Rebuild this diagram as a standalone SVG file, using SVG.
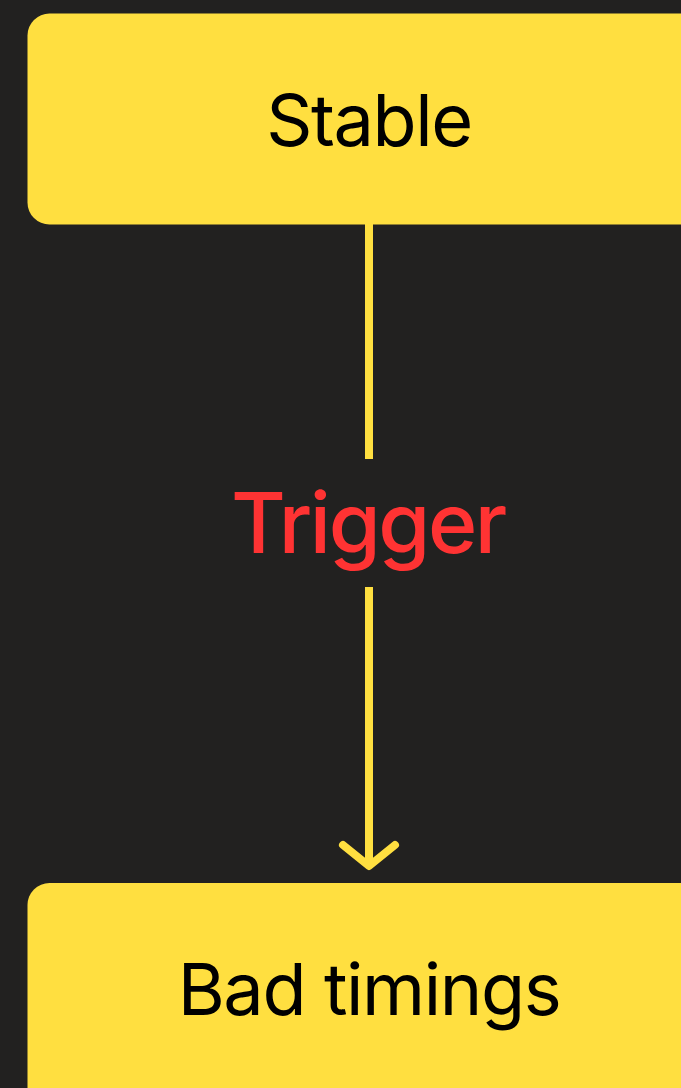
<svg xmlns="http://www.w3.org/2000/svg" width="681" height="1088" viewBox="0 0 681 1088">
  <style>
    .box { fill: #FFDF40; }
    .lbl { font-family: Inter, "Noto Sans", "Liberation Sans", sans-serif; font-size: 72px; letter-spacing: -1.4px; fill: #000000; text-anchor: middle; }
    .edge { stroke: #FFDF40; stroke-width: 8; fill: none; }
    .trig { font-family: Inter, "Noto Sans", "Liberation Sans", sans-serif; font-size: 84px; font-weight: 500; letter-spacing: -2.4px; fill: #FF3333; text-anchor: middle; }
  </style>
  <rect width="681" height="1088" fill="#222120"/>
  <g id="node-stable">
    <rect class="box" x="27.5" y="13.5" width="700" height="211" rx="22"/>
    <text class="lbl" x="369" y="146">Stable</text>
  </g>
  <g id="node-bad-timings">
    <rect class="box" x="27.5" y="883" width="700" height="240" rx="22"/>
    <text class="lbl" x="369" y="1015">Bad timings</text>
  </g>
  <g id="connectors">
    <line class="edge" x1="369" y1="224" x2="369" y2="459"/>
    <line class="edge" x1="369" y1="587" x2="369" y2="866"/>
    <polyline class="edge" points="343,845 369,866 395,845" stroke-linecap="round" stroke-linejoin="round"/>
    <text class="trig" x="368" y="553">Trigger</text>
  </g>
</svg>
